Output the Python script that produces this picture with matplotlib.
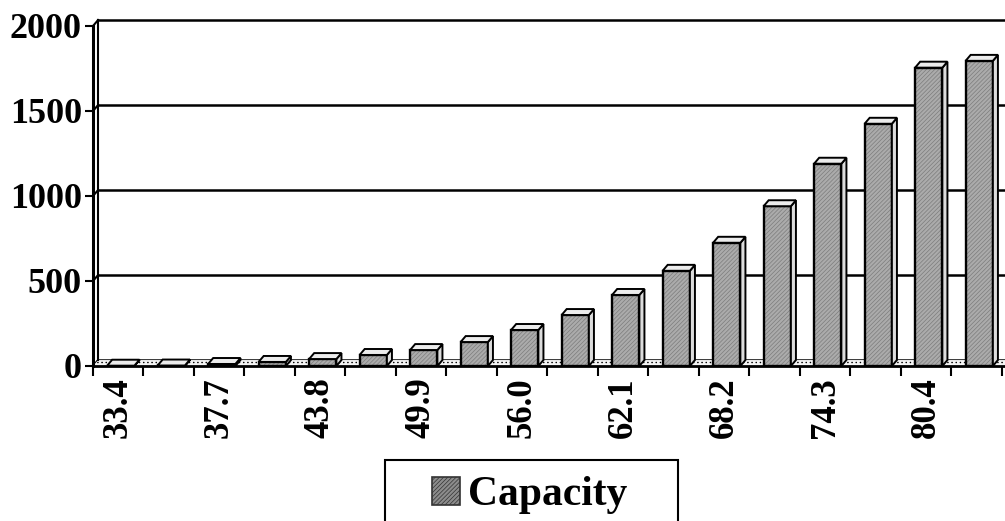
import matplotlib.pyplot as plt
from matplotlib.patches import Polygon, Rectangle

plt.rcParams['font.family'] = ['Liberation Serif', 'DejaVu Serif']
plt.rcParams['font.weight'] = 'bold'
plt.rcParams['hatch.linewidth'] = 0.5

# 1) Data: capacity per class (every other class is labelled)
classi = ['33.4', '', '37.7', '', '43.8', '', '49.9', '', '56.0', '',
          '62.1', '', '68.2', '', '74.3', '', '80.4', '']
capacity = [2, 3, 12, 24, 41, 65, 94, 141, 212, 300,
            418, 560, 725, 940, 1190, 1425, 1755, 1795]
y_ticks = [0, 500, 1000, 1500, 2000]

# 2) 3D look: depth offsets (x in slots, y in data units)
dx = 0.10
d = 35
w = 0.54
x_max = 17.56

fig = plt.figure(figsize=(10.05, 5.21), dpi=100)
ax = fig.add_axes([93 / 1005, (521 - 366) / 521, (1005 - 93) / 1005, 348 / 521])
ax.set_xlim(-0.5, x_max)
ax.set_ylim(-d, 2012)

# back wall gridlines + little diagonal on the side wall
for v in y_ticks:
    ax.plot([-0.5 + dx, x_max + 1], [v, v], color='black', lw=1.8, zorder=1)
    ax.plot([-0.5, -0.5 + dx], [v - d, v], color='black', lw=1.5, zorder=1, clip_on=False)

# side wall edges
ax.plot([-0.5, -0.5], [-d, 2000 - d], color='black', lw=2.2, clip_on=False, zorder=3)
ax.plot([-0.5 + dx, -0.5 + dx], [0, 2000], color='black', lw=1.5, clip_on=False, zorder=3)

# floor (dotted strip)
floor = Polygon([(-0.5, -d), (x_max + 1, -d), (x_max + 1 + dx, 0), (-0.5 + dx, 0)],
                facecolor='#f4f4f4', edgecolor='black', hatch='....', lw=0, zorder=2)
ax.add_patch(floor)

# 3) bars
for k, v in enumerate(capacity):
    x0 = k - 0.22
    x1 = x0 + w
    ax.add_patch(Rectangle((x0, -d), w, v, facecolor='#ababab', edgecolor='#7c7c7c',
                           hatch='////////', lw=0, zorder=4))
    ax.add_patch(Rectangle((x0, -d), w, v, fill=False, edgecolor='black', lw=1.7, zorder=5))
    ax.add_patch(Polygon([(x1, -d), (x1 + dx, 0), (x1 + dx, v), (x1, v - d)],
                         facecolor='#dcdcdc', edgecolor='black', lw=1.4, zorder=5))
    ax.add_patch(Polygon([(x0, v - d), (x1, v - d), (x1 + dx, v), (x0 + dx, v)],
                         facecolor='#ececec', edgecolor='black', lw=1.4, zorder=5))

# 4) axes, ticks and labels
for s in ['left', 'top', 'right']:
    ax.spines[s].set_visible(False)
ax.spines['bottom'].set_linewidth(2)
ax.spines['bottom'].set_zorder(6)

ax.set_yticks([v - d for v in y_ticks])
ax.set_yticklabels([str(v) for v in y_ticks])
ax.tick_params(axis='y', length=6, width=1.5, pad=2, labelsize=26)

ax.set_xticks(range(len(classi)))
ax.set_xticklabels(classi, rotation=90)
ax.set_xticks([k - 0.5 for k in range(len(classi) + 1)], minor=True)
ax.tick_params(axis='x', which='major', length=0, pad=8, labelsize=25)
ax.tick_params(axis='x', which='minor', length=7, width=1.5)

# 5) legend box
fig.add_artist(Rectangle((385 / 1005, -0.05), (678 - 385) / 1005, 0.05 + 61 / 521,
                         transform=fig.transFigure, facecolor='white',
                         edgecolor='black', lw=1.5))
fig.add_artist(Rectangle((432 / 1005, 16 / 521), 28 / 1005, 28 / 521,
                         transform=fig.transFigure, facecolor='#8c8c8c',
                         edgecolor='#333333', hatch='////////', lw=1.2))
fig.text(468 / 1005, 16 / 521, 'Capacity', fontsize=30, fontweight='bold',
         va='baseline', ha='left')

fig.savefig('out.png', dpi=100)
